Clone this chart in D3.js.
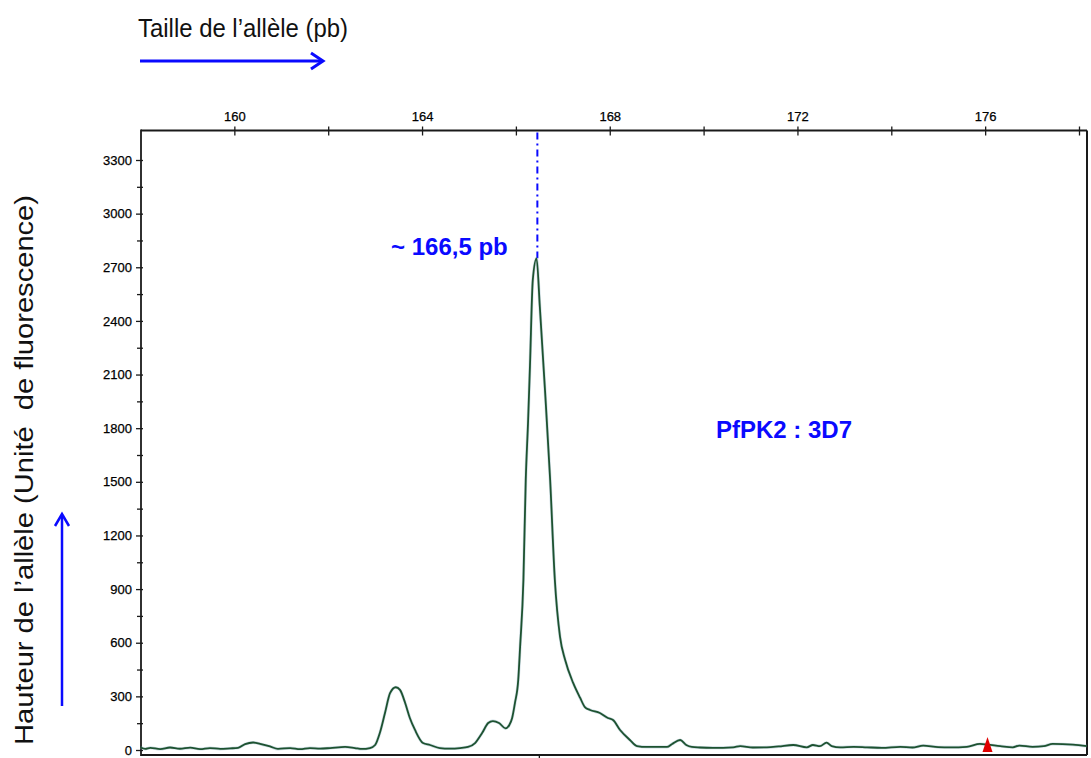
<!DOCTYPE html>
<html>
<head>
<meta charset="utf-8">
<script src="https://cdn.jsdelivr.net/npm/d3@7"></script>
<style>
  html, body { margin: 0; padding: 0; background: #ffffff; }
  svg { display: block; font-family: Arial, "Liberation Sans", Helvetica, sans-serif; }
</style>
</head>
<body>
<svg id="chart" width="1091" height="758"></svg>
<script>
// ---- data ----
const sizes = [158.00,158.10,158.21,158.42,158.63,158.84,159.06,159.27,159.48,159.70,159.91,160.08,160.23,160.40,160.55,160.76,160.93,161.19,161.40,161.61,161.83,162.04,162.36,162.57,162.72,162.89,163.00,163.10,163.21,163.32,163.44,163.53,163.64,163.74,163.85,164.02,164.17,164.38,164.59,164.81,164.98,165.13,165.28,165.41,165.51,165.64,165.78,165.86,165.92,165.98,166.05,166.09,166.16,166.21,166.26,166.30,166.36,166.44,166.51,166.62,166.73,166.83,166.94,167.05,167.22,167.37,167.47,167.58,167.79,167.96,168.07,168.22,168.43,168.58,168.79,169.01,169.22,169.33,169.50,169.63,169.75,169.92,170.20,170.63,170.78,171.05,171.35,171.60,171.91,172.20,172.33,172.48,172.62,172.73,172.91,173.20,173.48,173.80,174.19,174.45,174.68,175.00,175.26,175.61,175.89,176.05,176.32,176.59,176.73,177.01,177.25,177.44,177.87,178.17];
const heights = [15,6,12,5,14,7,13,5,11,6,9,12,33,42,34,20,6,11,5,11,8,11,17,11,6,11,28,95,207,319,351,336,263,179,112,39,28,11,8,11,17,39,95,151,162,151,121,140,179,263,392,578,951,1510,1840,2150,2629,2750,2479,2013,1510,951,634,503,375,291,240,224,207,179,168,112,56,22,17,17,17,34,56,28,17,14,12,15,22,14,15,20,28,15,28,22,41,22,15,18,15,12,18,14,25,16,15,18,34,30,22,15,25,18,22,34,30,22];
const xMajorTicks = [160,164,168,172,176];
const xMinorTicks = [162,166,170,174,178];
const yMajorTicks = [0,300,600,900,1200,1500,1800,2100,2400,2700,3000,3300];
const yMinorTicks = [150,450,750,1050,1350,1650,1950,2250,2550,2850,3150];
const peakSize = 166.5;
const peakHeight = 2750;
const peakLabel = "~ 166,5 pb";
const sampleLabel = "PfPK2 : 3D7";
const markerSize = 176.05;
const xTitle = "Taille de l\u2019allèle (pb)";
const yTitle = "Hauteur de l\u2019allèle (Unité  de fluorescence)";

// ---- layout ----
const svg = d3.select("#chart");
const frame = { left: 141, right: 1087, top: 130.5, bottom: 755 };
const x = d3.scaleLinear().domain([158, 178]).range([140.5, 1079]);
const y = d3.scaleLinear().domain([0, 3300]).range([750, 160]);
const blue = "#0a0aff";
const ink = "#1a1a1a";

// frame lines
svg.append("line").attr("x1", frame.left).attr("x2", frame.right).attr("y1", frame.top).attr("y2", frame.top)
  .attr("stroke", ink).attr("stroke-width", 2);
svg.append("line").attr("x1", frame.left).attr("x2", frame.right).attr("y1", frame.bottom).attr("y2", frame.bottom)
  .attr("stroke", ink).attr("stroke-width", 2);
svg.append("line").attr("x1", frame.right).attr("x2", frame.right).attr("y1", frame.top).attr("y2", frame.bottom)
  .attr("stroke", ink).attr("stroke-width", 2);

// top axis
const topAxis = d3.axisTop(x).tickValues(xMajorTicks).tickSize(4).tickPadding(4).tickFormat(d3.format("d"));
const gTop = svg.append("g").attr("transform", `translate(0,${frame.top})`).call(topAxis);
gTop.select(".domain").remove();
gTop.selectAll(".tick line").attr("stroke", ink).attr("stroke-width", 1.3).attr("y2", -4).attr("y1", 5);
gTop.selectAll(".tick text").attr("font-size", 13).attr("fill", "#000").attr("dy", "-0.1em")
  .attr("stroke", "#000").attr("stroke-width", 0.25);
const gTopMinor = svg.append("g").attr("transform", `translate(0,${frame.top})`)
  .call(d3.axisTop(x).tickValues(xMinorTicks).tickSize(4).tickFormat(""));
gTopMinor.select(".domain").remove();
gTopMinor.selectAll(".tick line").attr("stroke", ink).attr("stroke-width", 1.3).attr("y2", -4).attr("y1", 5);

// left axis
const leftAxis = d3.axisLeft(y).tickValues(yMajorTicks).tickSize(5).tickPadding(4).tickFormat(d3.format("d"));
const gLeft = svg.append("g").attr("transform", `translate(${frame.left},0)`).call(leftAxis);
gLeft.select(".domain").remove();
gLeft.selectAll(".tick line").attr("stroke", ink).attr("stroke-width", 1.3).attr("x2", -5).attr("x1", 2);
gLeft.selectAll(".tick text").attr("font-size", 13).attr("fill", "#000")
  .attr("stroke", "#000").attr("stroke-width", 0.25);
const gLeftMinor = svg.append("g").attr("transform", `translate(${frame.left},0)`)
  .call(d3.axisLeft(y).tickValues(yMinorTicks).tickSize(4).tickFormat(""));
gLeftMinor.select(".domain").remove();
gLeftMinor.selectAll(".tick line").attr("stroke", ink).attr("stroke-width", 1.3).attr("x2", -4).attr("x1", 2);
svg.append("line").attr("x1", frame.left).attr("x2", frame.left).attr("y1", frame.top - 1).attr("y2", frame.bottom + 1)
  .attr("stroke", ink).attr("stroke-width", 1.8);

// bottom tick at peak
svg.append("line").attr("x1", x(peakSize)).attr("x2", x(peakSize)).attr("y1", frame.bottom).attr("y2", frame.bottom + 4)
  .attr("stroke", ink).attr("stroke-width", 1.3);

// peak dash-dot line
svg.append("line").attr("x1", x(peakSize) - 2).attr("x2", x(peakSize) - 2)
  .attr("y1", frame.top + 2).attr("y2", y(peakHeight))
  .attr("stroke", blue).attr("stroke-width", 2).attr("stroke-dasharray", "7,4,2,4");

// trace
const pts = sizes.map((s, i) => [s, heights[i]]);
const line = d3.line().x(d => x(d[0])).y(d => y(d[1])).curve(d3.curveMonotoneX);
svg.append("path").datum(pts).attr("d", line).attr("fill", "none")
  .attr("stroke", "#6f9bb0").attr("stroke-width", 3).attr("stroke-opacity", 0.35);
svg.append("path").datum(pts).attr("d", line).attr("fill", "none")
  .attr("stroke", "#1d5230").attr("stroke-width", 1.8).attr("stroke-linejoin", "round");

// red marker
const mx = x(markerSize);
svg.append("path").attr("d", `M${mx - 5},${frame.bottom - 3} L${mx},${frame.bottom - 18} L${mx + 5},${frame.bottom - 3} Z`)
  .attr("fill", "#e00000");

// labels
svg.append("text").attr("x", 391).attr("y", 255).attr("font-size", 24).attr("font-weight", "bold")
  .attr("fill", blue).text(peakLabel);
svg.append("text").attr("x", 716).attr("y", 438).attr("font-size", 24).attr("font-weight", "bold")
  .attr("fill", blue).text(sampleLabel);

// x title and arrow
svg.append("text").attr("x", 138).attr("y", 37).attr("font-size", 25)
  .attr("textLength", 210).attr("lengthAdjust", "spacingAndGlyphs").attr("fill", "#111").text(xTitle);
svg.append("line").attr("x1", 140).attr("x2", 322).attr("y1", 61).attr("y2", 61)
  .attr("stroke", blue).attr("stroke-width", 3);
svg.append("path").attr("d", "M311,53 L323,61 L311,69").attr("fill", "none")
  .attr("stroke", blue).attr("stroke-width", 3).attr("stroke-linejoin", "miter");

// y title and arrow
svg.append("text").attr("transform", "translate(33,470) rotate(-90)").attr("text-anchor", "middle")
  .attr("font-size", 25).attr("textLength", 550).attr("lengthAdjust", "spacingAndGlyphs")
  .style("white-space", "pre").attr("xml:space", "preserve")
  .attr("fill", "#111").text(yTitle);
svg.append("line").attr("x1", 62).attr("x2", 62).attr("y1", 706).attr("y2", 515)
  .attr("stroke", blue).attr("stroke-width", 2.5);
svg.append("path").attr("d", "M55,526 L62,514 L69,526").attr("fill", "none")
  .attr("stroke", blue).attr("stroke-width", 2.5);
</script>
</body>
</html>
